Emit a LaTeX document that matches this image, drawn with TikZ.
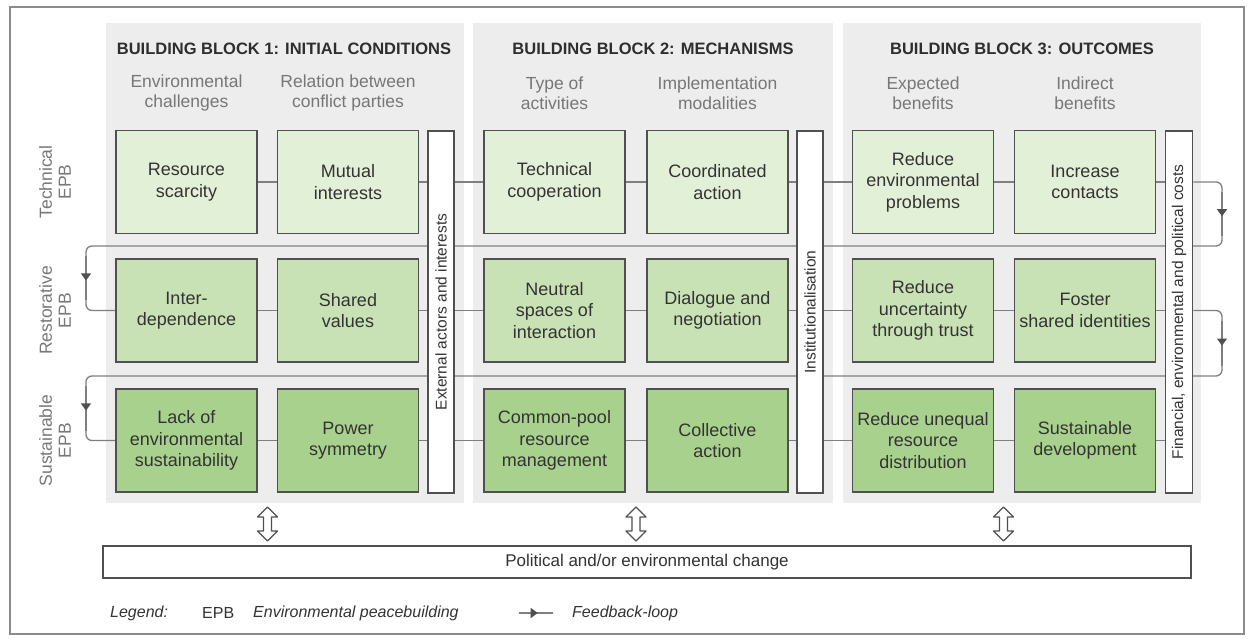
\documentclass[tikz,border=0pt]{standalone}
\usepackage{fontspec}
\setmainfont{Liberation Sans}
\usetikzlibrary{shapes.geometric,arrows.meta,decorations.markings,calc}
\pgfdeclarelayer{panel}
\pgfdeclarelayer{lines}
\pgfsetlayers{panel,lines,main}
\definecolor{gA}{HTML}{E3F0D8}
\definecolor{gB}{HTML}{C8E2B5}
\definecolor{gC}{HTML}{A9D18E}
\definecolor{boxline}{HTML}{505050}
\definecolor{linegray}{HTML}{7F7F7F}
\definecolor{panelgray}{HTML}{EDEDED}
\definecolor{txt}{HTML}{333333}
\definecolor{hdrcol}{HTML}{2E2E2E}
\definecolor{subcol}{HTML}{777777}
\definecolor{framecol}{HTML}{8C8C8C}
\tikzset{
  box/.style={draw=boxline, line width=1.6pt, minimum width=141pt, minimum height=103pt,
    inner sep=0pt, align=center, font=\fontsize{18}{21.5}\selectfont, text=txt},
  rowA/.style={box, fill=gA},
  rowB/.style={box, fill=gB},
  rowC/.style={box, fill=gC},
  barbox/.style={draw=boxline, line width=1.6pt, fill=white, minimum width=26pt,
    minimum height=362pt, inner sep=0pt},
  bartext/.style={rotate=90, font=\fontsize{15.5}{18}\selectfont, text=txt, inner sep=0pt},
  conn/.style={draw=linegray, line width=1.3pt},
  fbloop/.style={conn, rounded corners=6pt},
  midtip/.style={conn, decoration={markings,
      mark=at position 0.55 with {\arrow[boxline]{Triangle[width=10pt,length=7pt]}}},
    postaction={decorate}},
  hdr/.style={font=\bfseries\fontsize{16.5}{20}\selectfont, text=hdrcol},
  subhdr/.style={font=\fontsize{17.5}{20}\selectfont, text=subcol, align=center},
  rowlab/.style={rotate=90, align=center, font=\fontsize{17.5}{19}\selectfont, text=subcol},
  legtext/.style={font=\itshape\fontsize{16}{19}\selectfont, text=txt, anchor=west, inner sep=0pt},
  pics/dblarrow/.style={code={
    \draw[draw=boxline, line width=1.2pt, fill=white, line join=round]
      (0,-17) -- (10,-7) -- (4,-7) -- (4,7) -- (10,7) -- (0,17) -- (-10,7) -- (-4,7)
      -- (-4,-7) -- (-10,-7) -- cycle;
  }},
}
\begin{document}
\begin{tikzpicture}[x=1pt, y=-1pt]
\useasboundingbox (0,0) rectangle (1251,639);
% outer frame
\draw[framecol, line width=2.5pt] (10,7) rectangle (1244,634);

% panels
\begin{pgfonlayer}{panel}
  \fill[panelgray] (106,23) rectangle (464,503);
  \fill[panelgray] (473,23) rectangle (833,503);
  \fill[panelgray] (843,23) rectangle (1201,503);
\end{pgfonlayer}

% headers
\node[hdr] (h1) at (284,49) {BUILDING BLOCK 1: INITIAL CONDITIONS};
\node[hdr] (h2) at (653,49) {BUILDING BLOCK 2: MECHANISMS};
\node[hdr] (h3) at (1022,49) {BUILDING BLOCK 3: OUTCOMES};

\node[subhdr] (s1) at (186.5,93) {Environmental\\challenges};
\node[subhdr] (s2) at (348,93) {Relation between\\conflict parties};
\node[subhdr] (s3) at (554.5,93) {Type of\\activities};
\node[subhdr] (s4) at (717.5,93) {Implementation\\modalities};
\node[subhdr] (s5) at (923,93) {Expected\\benefits};
\node[subhdr] (s6) at (1085,93) {Indirect\\benefits};

% row labels
\node[rowlab] (l1) at (55,182) {Technical\\EPB};
\node[rowlab] (l2) at (55,310.5) {Restorative\\EPB};
\node[rowlab] (l3) at (55,440.5) {Sustainable\\EPB};

% row 1
\node[rowA] (c1r1) at (186.5,182) {Resource\\scarcity};
\node[rowA] (c2r1) at (348,182) {Mutual\\interests};
\node[rowA] (c3r1) at (554.5,182) {Technical\\cooperation};
\node[rowA] (c4r1) at (717.5,182) {Coordinated\\action};
\node[rowA] (c5r1) at (923,182) {Reduce\\environmental\\problems};
\node[rowA] (c6r1) at (1085,182) {Increase\\contacts};
% row 2
\node[rowB] (c1r2) at (186.5,310.5) {Inter-\\dependence};
\node[rowB] (c2r2) at (348,310.5) {Shared\\values};
\node[rowB] (c3r2) at (554.5,310.5) {Neutral\\spaces of\\interaction};
\node[rowB] (c4r2) at (717.5,310.5) {Dialogue and\\negotiation};
\node[rowB] (c5r2) at (923,310.5) {Reduce\\uncertainty\\through trust};
\node[rowB] (c6r2) at (1085,310.5) {Foster\\shared identities};
% row 3
\node[rowC] (c1r3) at (186.5,440.5) {Lack of\\environmental\\sustainability};
\node[rowC] (c2r3) at (348,440.5) {Power\\symmetry};
\node[rowC] (c3r3) at (554.5,440.5) {Common-pool\\resource\\management};
\node[rowC] (c4r3) at (717.5,440.5) {Collective\\action};
\node[rowC] (c5r3) at (923,440.5) {Reduce unequal\\resource\\distribution};
\node[rowC] (c6r3) at (1085,440.5) {Sustainable\\development};

% vertical bars
\node[barbox] (bar1) at (441,312) {};
\node[barbox] (bar2) at (810,312) {};
\node[barbox, minimum width=27pt] (bar3) at (1179,312) {};
\node[bartext] (bt1) at (bar1.center) {External actors and interests};
\node[bartext] (bt2) at (bar2.center) {Institutionalisation};
\node[bartext] (bt3) at (bar3.center) {Financial, environmental and political costs};

% helper coordinates
\coordinate (fbR) at (1222,0);
\coordinate (fbL) at (86,0);
\coordinate (g1) at (0,246);
\coordinate (g2) at (0,376);

\begin{pgfonlayer}{lines}
  \foreach \r in {r1,r2,r3}{
    \draw[conn] (c1\r.east) -- (c2\r.west);
    \draw[conn] (c2\r.east) -- (c3\r.west);
    \draw[conn] (c3\r.east) -- (c4\r.west);
    \draw[conn] (c4\r.east) -- (c5\r.west);
    \draw[conn] (c5\r.east) -- (c6\r.west);
    \draw[conn] (c6\r.east) -- (bar3.west |- c6\r.east);
  }
  \draw[fbloop] (bar3.east |- c6r1.east) -- (fbR |- c6r1.east)
     -- (fbR |- g1) -- (fbL |- g1)
     -- (fbL |- c1r2.west) -- (c1r2.west);
  \draw[fbloop] (bar3.east |- c6r2.east) -- (fbR |- c6r2.east)
     -- (fbR |- g2) -- (fbL |- g2)
     -- (fbL |- c1r3.west) -- (c1r3.west);
  % feedback arrow marks on the vertical runs
  \draw[midtip] ($(fbR |- c6r1.east)+(0,10)$) -- ($(fbR |- g1)+(0,-10)$);
  \draw[midtip] ($(fbL |- g1)+(0,10)$) -- ($(fbL |- c1r2.west)+(0,-10)$);
  \draw[midtip] ($(fbR |- c6r2.east)+(0,10)$) -- ($(fbR |- g2)+(0,-10)$);
  \draw[midtip] ($(fbL |- g2)+(0,10)$) -- ($(fbL |- c1r3.west)+(0,-10)$);
\end{pgfonlayer}

% bottom box
\node[draw=boxline, line width=1.6pt, fill=white, minimum width=1088pt, minimum height=32pt,
  inner sep=0pt, font=\fontsize{17}{20}\selectfont, text=txt] (change) at (647,562)
  {Political and/or environmental change};

% double arrows between blocks and bottom box
\pic at (267.5,524) {dblarrow};
\pic at (636,524) {dblarrow};
\pic at (1003.5,524) {dblarrow};

% legend
\node[legtext] (lg1) at (110,613) {Legend:};
\node[legtext, font=\fontsize{16}{19}\selectfont] (lg2) at (202,613) {EPB};
\node[legtext] (lg3) at (253,613) {Environmental peacebuilding};
\coordinate (la) at (519,613);
\coordinate (lb) at (553,613);
\draw[midtip] (la) -- (lb);
\node[legtext] (lg4) at (572,613) {Feedback-loop};
\end{tikzpicture}
\end{document}
